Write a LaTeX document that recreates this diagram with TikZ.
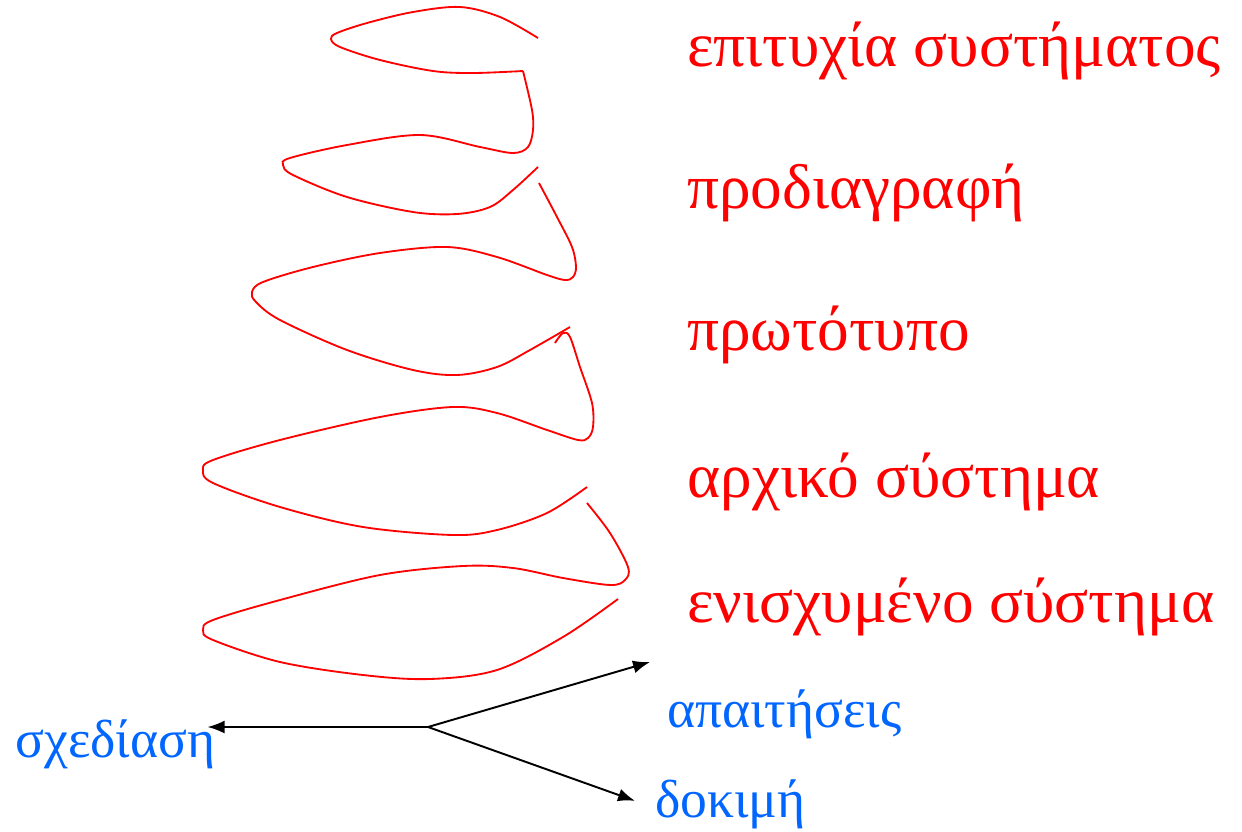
\documentclass[tikz,border=0pt]{standalone}
\usepackage{fontspec}
\setmainfont{Liberation Serif}
\usepackage{tikz}
\usetikzlibrary{arrows.meta,positioning,calc}
\definecolor{sprRed}{HTML}{FF0000}
\definecolor{sprBlue}{HTML}{0066FF}
\definecolor{sprInk}{HTML}{000000}
\tikzset{
  sprArrow/.style={-{Latex[length=3.4mm,width=2.6mm]}, draw=sprInk, line width=1.1pt},
  sprLoop/.style={draw=sprRed, line width=1.05pt, smooth, tension=0.55},
  sprPhase/.style={
    text=sprRed,
    font=\fontsize{36}{40}\selectfont,
    anchor=base west,
    inner sep=0pt
  },
  sprTask/.style={
    text=sprBlue,
    font=\fontsize{30.5}{34}\selectfont,
    anchor=base west,
    inner sep=0pt
  }
}
\begin{document}
\begin{tikzpicture}[x=0.02cm, y=-0.02cm]
  \useasboundingbox (0,0) rectangle (1242,832);

  % spiral, drawn from the top down
  \draw[sprLoop] plot coordinates {(538,38) (500,17) (460,7) (413,12) (367,23) (337,33)
    (331,39) (340,47) (380,60) (433,71) (473,73) (523,71)};
  \draw[sprLoop] plot coordinates {(523,71) (532,110) (533,130) (528,147) (513,153)
    (480,147) (420,135) (347,145) (290,158) (283,165) (293,175) (347,197) (413,212)
    (457,214) (490,207) (513,190) (538,167)};
  \draw[sprLoop] plot coordinates {(539,183) (557,217) (572,247) (576,267) (573,277)
    (565,280) (547,275) (497,257) (447,247) (380,253) (313,267) (263,282) (252,292)
    (256,302) (280,320) (347,350) (413,370) (457,375) (497,367) (530,350) (570,327)};
  \draw[sprLoop] plot coordinates {(555,343) (563,333) (570,337) (580,367) (592,403)
    (593,427) (588,438) (578,440) (547,430) (497,413) (453,407) (380,417) (280,440)
    (213,460) (203,470) (213,483) (280,507) (363,527) (453,535) (497,530) (547,513)
    (587,487)};
  \draw[sprLoop] plot coordinates {(587,503) (610,533) (628,567) (625,580) (610,585)
    (563,578) (513,568) (463,566) (380,575) (280,600) (213,620) (203,630) (213,640)
    (280,662) (363,675) (430,679) (497,670) (563,637) (618,599)};

  % phases
  \foreach \y/\name/\txt in {66/success/επιτυχία συστήματος,
                             208/spec/προδιαγραφή,
                             350/proto/πρωτότυπο,
                             497/initial/αρχικό σύστημα,
                             622/enhanced/ενισχυμένο σύστημα}
    \node[sprPhase] (\name) at (687,\y) {\txt};

  % tasks
  \node[sprTask] (design) at (15,757) {σχεδίαση};
  \node[sprTask] (reqs) at (667,727) {απαιτήσεις};
  \node[sprTask] (test) at (655,817) {δοκιμή};

  \coordinate (split) at (428,727);
  \coordinate (reqsTip) at (650,662);
  \coordinate (testTip) at ($(test.west)+(-20,-3)$);
  \coordinate (designTip) at ($(design.east |- split)+(-8,0)$);
  \draw[sprArrow] (split) -- (designTip);
  \draw[sprArrow] (split) -- (reqsTip);
  \draw[sprArrow] (split) -- (testTip);
\end{tikzpicture}
\end{document}
